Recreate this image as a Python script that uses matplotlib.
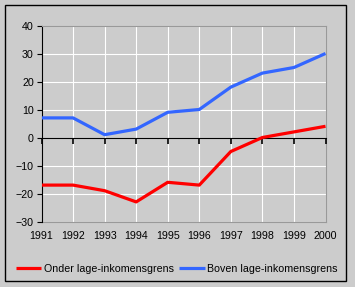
import matplotlib
matplotlib.use("Agg")
import matplotlib.pyplot as plt
from matplotlib.patches import Rectangle

years = [1991, 1992, 1993, 1994, 1995, 1996, 1997, 1998, 1999, 2000]
onder = [-17, -17, -19, -23, -16, -17, -5, 0, 2, 4]
boven = [7, 7, 1, 3, 9, 10, 18, 23, 25, 30]
labels = ["Onder lage-inkomensgrens", "Boven lage-inkomensgrens"]
yticks = [-30, -20, -10, 0, 10, 20, 30, 40]

plt.rcParams['font.family'] = ['Liberation Sans', 'DejaVu Sans']
plt.rcParams['font.size'] = 7.7

W, H = 355, 287
fig = plt.figure(figsize=(W / 100, H / 100), dpi=100, facecolor='#cccccc')
ax = fig.add_axes([41.5 / W, 1 - 221.5 / H, (325.5 - 41.5) / W, (221.5 - 25.5) / H])
ax.set_facecolor('#cccccc')

ax.set_xlim(years[0], years[-1])
ax.set_ylim(yticks[0], yticks[-1])
ax.set_xticks(years)
ax.set_yticks(yticks)
ax.yaxis.grid(True, color='white', lw=0.8)
ax.xaxis.grid(False)
ax.set_axisbelow(True)
# vertical grid lines above the zero axis only; below zero they are replaced by ticks + grid
ax.vlines(years, yticks[0], yticks[-1], color='white', lw=0.8, zorder=0.4)

ax.axhline(yticks[0], color='#999999', lw=0.8, clip_on=False, zorder=2.5)
ax.plot(years, onder, color='#ff0000', lw=2.3, label=labels[0], solid_capstyle='butt', zorder=3)
ax.plot(years, boven, color='#3366ff', lw=2.3, label=labels[1], solid_capstyle='butt', zorder=3)

for s in ['top', 'right']:
    ax.spines[s].set_color('#999999')
    ax.spines[s].set_linewidth(0.8)
ax.spines['left'].set_color('black')
ax.spines['left'].set_linewidth(0.8)
ax.spines['bottom'].set_position(('data', 0))
ax.spines['bottom'].set_color('black')
ax.spines['bottom'].set_linewidth(0.8)
ax.spines['bottom'].set_zorder(2.6)

ax.tick_params(axis='x', direction='out', length=4.5, width=1.2, pad=63, colors='black')
ax.tick_params(axis='y', direction='out', length=3.5, width=0.8, pad=2, colors='black')
ax.xaxis.set_zorder(2.6)

fig.legend(loc='center', bbox_to_anchor=(176.5 / W, 1 - 269 / H), ncol=2, frameon=False,
           handlelength=2.4, handletextpad=0.2, columnspacing=0.5, fontsize=7.7,
           borderpad=0, borderaxespad=0)

fig.patches.append(Rectangle((5 / W, 1 - 281 / H), (346 - 5) / W, (281 - 5) / H,
                             transform=fig.transFigure, fill=False, edgecolor='black', lw=1))

fig.savefig('out.png', dpi=100, facecolor='#cccccc')
